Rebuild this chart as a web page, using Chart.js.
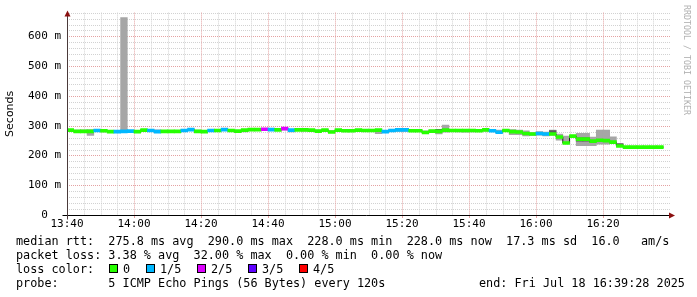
<!DOCTYPE html>
<html>
<head>
<meta charset="utf-8">
<script src="https://cdn.jsdelivr.net/npm/chart.js@4/dist/chart.umd.min.js"></script>
<style>
html,body{margin:0;padding:0;background:#fff;}
#wrap{position:relative;width:697px;height:297px;overflow:hidden;background:#fff;}
#c{position:absolute;left:0;top:0;}
.t{position:absolute;font-family:'DejaVu Sans Mono',monospace;font-size:11.8px;line-height:14px;white-space:pre;color:#000;}
.sq{position:absolute;width:9px;height:9px;box-sizing:border-box;border:1px solid #000;}
#wm{position:absolute;left:692px;top:5px;transform:rotate(90deg);transform-origin:left top;font-family:'DejaVu Sans Mono',monospace;font-size:8.3px;line-height:10px;white-space:pre;color:#b0b0b0;}
</style>
</head>
<body>
<div id="wrap">
<canvas id="c" width="697" height="297"></canvas>
<div id="legend"></div>
<div id="wm">RRDTOOL / TOBI OETIKER</div>
</div>
<script>
// ---- data ----
const timeLabels = ['13:40','14:00','14:20','14:40','15:00','15:20','15:40','16:00','16:20'];
const stepMinutes = 2;
// median rtt per 2-minute step, in ms
const median = [285,281,281,281,284,283,280,280,281,282,
                280,285,284,280,281,281,281,284,287,281,
                280,284,284,287,284,282,285,287,287,288,
                287,286,290,285,286,286,285,282,285,279,
                285,283,283,285,284,284,285,280,284,286,
                286,283,283,277,282,281,285,284,284,284,
                284,283,286,283,278,284,280,279,274,272,
                274,272,272,262,242,265,255,255,248,251,
                250,245,232,228,228,228,228,228,228];
// lost pings out of 5 per step
const loss = [0,0,0,0,1,0,0,1,1,1,
              0,0,1,1,0,0,0,1,1,0,
              0,1,0,1,0,0,0,0,0,2,
              1,0,2,1,0,0,0,0,0,0,
              0,0,0,0,0,0,0,1,1,1,
              1,0,0,0,0,0,0,0,0,0,
              0,0,0,1,1,0,0,0,0,0,
              1,1,0,0,0,0,0,0,0,0,
              0,0,0,0,0,0,0,0,0];
// smoke (fastest / slowest ping) per step, in ms
const smokeLo = [282,279,279,267,280,279,278,278,278,279,
                 278,281,280,278,278,278,279,281,283,278,
                 277,280,280,283,281,278,279,284,284,285,
                 283,283,286,279,283,282,281,280,282,277,
                 282,280,280,282,281,281,273,278,280,281,
                 281,280,280,275,279,272,278,281,279,278,
                 279,280,282,281,276,281,270,270,266,267,
                 268,266,268,251,240,262,233,233,233,238,
                 238,240,230,226,226,226,226,226,226];
const smokeHi = [288,285,286,287,287,287,283,284,663,284,
                 283,287,287,286,284,283,284,287,289,285,
                 283,287,286,289,286,284,287,289,289,290,
                 289,288,291,287,288,288,288,285,288,284,
                 288,287,287,288,287,287,287,284,287,288,
                 288,286,286,283,285,288,302,287,286,286,
                 287,287,288,287,285,287,287,285,283,277,
                 280,279,285,272,265,268,274,274,262,285,
                 285,263,241,231,230,230,230,230,230];
// inner (darker) smoke where visible
const innerSteps = [11,25,26,49,50,55,72,76,77,78,79,80,82];
const innerLo    = [285,279,280,283,283,285,275,248,248,245,248,248,233];
const innerHi    = [287,282,283,286,286,288,284,259,259,251,254,254,239];

const lossColors = ['#26ff00','#00b8ff','#dd00ff','#5e00ff','#ff0000'];
const lossLabels = ['0','1/5','2/5','3/5','4/5'];

// ---- legend text (HTML) ----
const legendLines = [
  ['median rtt:  275.8 ms avg  290.0 ms max  228.0 ms min  228.0 ms now  17.3 ms sd  16.0   am/s',16,234],
  ['packet loss: 3.38 % avg  32.00 % max  0.00 % min  0.00 % now',16,248],
  ['loss color:',16,262],
  ['probe:       5 ICMP Echo Pings (56 Bytes) every 120s',16,276],
  ['end: Fri Jul 18 16:39:28 2025',479,276]
];
const sqX = [108.5,145.5,196.5,247.5,298.5];
const labX = [123,160,211,262,313];
const lg = document.getElementById('legend');
legendLines.forEach(([txt,x,y])=>{const d=document.createElement('div');d.className='t';d.style.left=x+'px';d.style.top=y+'px';d.textContent=txt;lg.appendChild(d);});
lossColors.forEach((col,i)=>{
  const s=document.createElement('div');s.className='sq';s.style.left=sqX[i]+'px';s.style.top='264px';s.style.background=col;lg.appendChild(s);
  const d=document.createElement('div');d.className='t';d.style.left=labX[i]+'px';d.style.top='262px';d.textContent=lossLabels[i];lg.appendChild(d);
});

// ---- datasets ----
const smokeData = median.map((m,i)=>({x:i*stepMinutes+stepMinutes/2, y:[smokeLo[i], smokeHi[i]]}));
const innerData = innerSteps.map((s,j)=>({x:s*stepMinutes+stepMinutes/2, y:[innerLo[j], innerHi[j]]}));
const lineData = median.map((m,i)=>({x:i*stepMinutes, y:m}));
lineData.push({x:median.length*stepMinutes, y:median[median.length-1]});
const bandHalf = 5;
const bandData = median.map((m,i)=>({x:i*stepMinutes+stepMinutes/2, y:[m-bandHalf, m+bandHalf]}));

const gridPlugin = {
  id:'rrdgrid',
  beforeDatasetsDraw(chart){
    const {ctx, chartArea:a, scales:{x,y}} = chart;
    ctx.save();
    ctx.lineWidth = 1;
    ctx.setLineDash([1,1]);
    for(let v=20; v<=680; v+=20){
      const py = Math.round(y.getPixelForValue(v))+0.5;
      ctx.strokeStyle = (v%100===0)?'#e4a2a2':'#d2d2d2';
      ctx.beginPath(); ctx.moveTo(a.left, py); ctx.lineTo(a.right, py); ctx.stroke();
    }
    for(let m=5; m<180; m+=5){
      const px = Math.round(x.getPixelForValue(m))+0.5;
      ctx.strokeStyle = (m%20===0)?'#e4a2a2':'#d2d2d2';
      ctx.beginPath(); ctx.moveTo(px, a.top); ctx.lineTo(px, a.bottom); ctx.stroke();
    }
    ctx.setLineDash([]);
    for(let m=0; m<180; m+=20){
      const px = Math.round(x.getPixelForValue(m))+0.5;
      ctx.strokeStyle = '#e4a2a2';
      ctx.beginPath(); ctx.moveTo(px, a.bottom); ctx.lineTo(px, a.bottom+3); ctx.stroke();
    }
    ctx.restore();
  },
  afterDraw(chart){
    const {ctx, chartArea:a} = chart;
    const L = Math.round(a.left)+0.5, B = Math.round(a.bottom)+0.5, R = Math.round(a.right);
    ctx.save();
    ctx.lineWidth = 1;
    ctx.strokeStyle = '#000';
    ctx.beginPath(); ctx.moveTo(L-5, B); ctx.lineTo(R, B); ctx.stroke();
    ctx.strokeStyle = '#4a3a3a';
    ctx.beginPath(); ctx.moveTo(L, B+4); ctx.lineTo(L, a.top+3); ctx.stroke();
    ctx.fillStyle = '#8b1010';
    ctx.beginPath(); ctx.moveTo(R-1, B-3); ctx.lineTo(R+5, B); ctx.lineTo(R-1, B+3); ctx.closePath(); ctx.fill();
    ctx.beginPath(); ctx.moveTo(L-3, a.top+4); ctx.lineTo(L, a.top-2); ctx.lineTo(L+3, a.top+4); ctx.closePath(); ctx.fill();
    ctx.restore();
  }
};

new Chart(document.getElementById('c'), {
  type:'bar',
  data:{datasets:[
    {label:'smoke', data:smokeData, backgroundColor:'#a6a6a6', borderWidth:0, grouped:false, barPercentage:1, categoryPercentage:1, order:3},
    {label:'inner smoke', data:innerData, backgroundColor:'#5a5a5a', borderWidth:0, grouped:false, barPercentage:1, categoryPercentage:1, order:2},
    {type:'line', label:'median', data:lineData, borderColor:'#202020', borderWidth:1, pointRadius:0, stepped:'before', fill:false, order:1},
    {label:'median rtt', data:bandData, backgroundColor:loss.map(l=>lossColors[l]), borderWidth:0, grouped:false, barPercentage:1, categoryPercentage:1, order:0}
  ]},
  options:{
    responsive:false, animation:false, devicePixelRatio:1,
    layout:{padding:{left:0,right:27,top:10,bottom:0}},
    plugins:{legend:{display:false}, tooltip:{enabled:false}},
    scales:{
      x:{type:'linear', min:0, max:180, offset:false,
         grid:{display:false, drawTicks:false, offset:false}, border:{display:false},
         ticks:{stepSize:20, autoSkip:false, maxRotation:0, padding:3, color:'#000',
                font:{family:'DejaVu Sans Mono', size:11},
                callback:(v)=>{const k=Math.round(v/20); return timeLabels[k] !== undefined ? timeLabels[k] : '';}},
         afterFit:(s)=>{s.height=82;}},
      y:{type:'linear', min:0, max:680,
         grid:{display:false, drawTicks:false}, border:{display:false},
         ticks:{stepSize:100, autoSkip:false, padding:6, color:'#000',
                font:{family:'DejaVu Sans Mono', size:11},
                callback:(v)=> v===0 ? '0  ' : (v%100===0 ? v+' m' : '')},
         title:{display:true, text:'Seconds', color:'#000', font:{family:'DejaVu Sans', size:11}, padding:{top:4,bottom:0}},
         afterFit:(s)=>{s.width=67;}}
    }
  },
  plugins:[gridPlugin]
});
</script>
</body>
</html>
